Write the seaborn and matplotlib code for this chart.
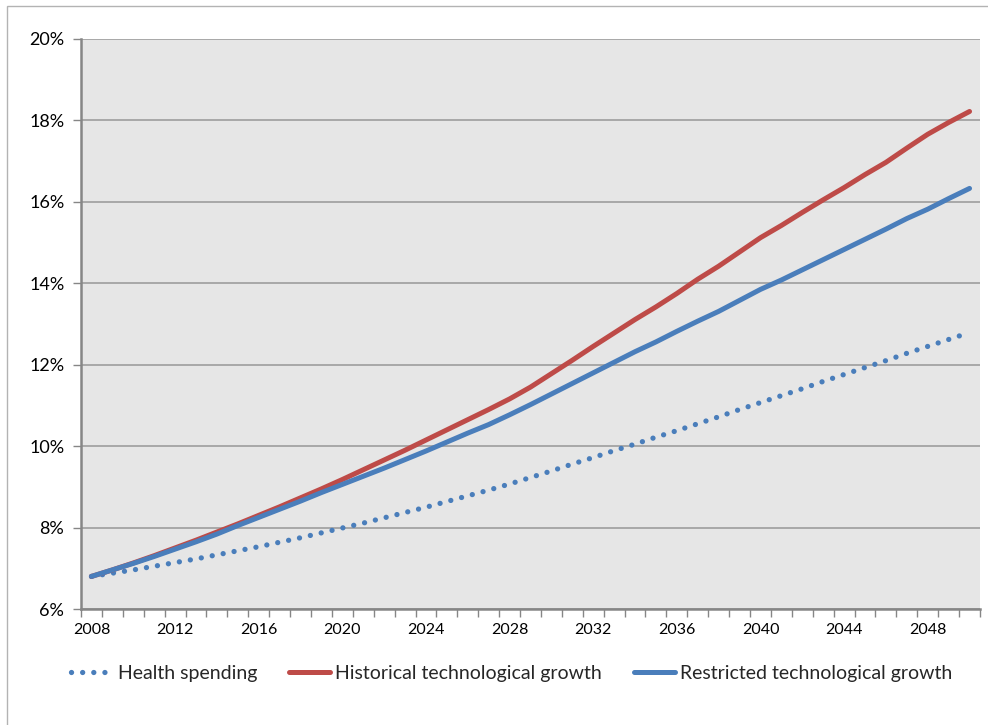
import numpy as np
import pandas as pd
import matplotlib
matplotlib.use("Agg")
import matplotlib.pyplot as plt
import seaborn as sns
from matplotlib.patches import Rectangle
from matplotlib.ticker import FixedLocator, FuncFormatter

years = list(range(2008, 2051))

health_spending = [6.80, 6.88, 6.96, 7.05, 7.14, 7.23, 7.33, 7.43, 7.53, 7.64,
                   7.75, 7.87, 7.99, 8.11, 8.24, 8.37, 8.50, 8.64, 8.78, 8.92,
                   9.07, 9.23, 9.39, 9.56, 9.72, 9.89, 10.05, 10.22, 10.38, 10.55,
                   10.72, 10.90, 11.07, 11.24, 11.41, 11.59, 11.76, 11.93, 12.10, 12.28,
                   12.45, 12.62, 12.79]

historical_growth = [6.80, 6.96, 7.13, 7.31, 7.50, 7.69, 7.89, 8.09, 8.30, 8.51,
                     8.73, 8.95, 9.18, 9.42, 9.66, 9.90, 10.15, 10.40, 10.65, 10.90,
                     11.16, 11.45, 11.78, 12.11, 12.45, 12.78, 13.11, 13.42, 13.75, 14.10,
                     14.42, 14.77, 15.12, 15.42, 15.74, 16.05, 16.35, 16.67, 16.97, 17.32,
                     17.66, 17.95, 18.22]

restricted_growth = [6.80, 6.96, 7.12, 7.29, 7.47, 7.65, 7.84, 8.05, 8.25, 8.45,
                     8.65, 8.86, 9.06, 9.26, 9.46, 9.67, 9.88, 10.10, 10.32, 10.53,
                     10.77, 11.02, 11.28, 11.54, 11.80, 12.06, 12.32, 12.56, 12.82, 13.07,
                     13.31, 13.58, 13.85, 14.08, 14.33, 14.58, 14.83, 15.08, 15.33, 15.59,
                     15.82, 16.08, 16.33]

series_names = ["Health spending", "Historical technological growth",
                "Restricted technological growth"]
x_tick_years = list(range(2008, 2049, 4))
y_ticks = [6, 8, 10, 12, 14, 16, 18, 20]

df = pd.DataFrame({"year": years,
                   series_names[0]: health_spending,
                   series_names[1]: historical_growth,
                   series_names[2]: restricted_growth})

sns.set_theme(style="white")
plt.rcParams['font.family'] = ['Lato', 'DejaVu Sans']

W, H = 988, 725
fig = plt.figure(figsize=(W / 100, H / 100), dpi=100)
ax = fig.add_axes([81 / W, 1 - 609 / H, (980 - 81) / W, (609 - 39) / H])

# figure frame (left and top edges visible)
fig.patches.append(Rectangle((7 / W, -0.1), 1.2, 1 - 6 / H + 0.1,
                             transform=fig.transFigure, fill=False,
                             edgecolor="#b3b3b3", linewidth=1.0, zorder=0))

ax.set_facecolor("#e6e6e6")

blue = "#4a7ebb"
red = "#be4b48"
dot_style = (0, (0.01, 2.1))

sns.lineplot(data=df, x="year", y=series_names[0], ax=ax, color=blue,
             linewidth=3.8, label=series_names[0])
ax.lines[-1].set_linestyle(dot_style)
ax.lines[-1].set_dash_capstyle("round")

sns.lineplot(data=df, x="year", y=series_names[1], ax=ax, color=red,
             linewidth=3.6, label=series_names[1])
ax.lines[-1].set_solid_capstyle("round")

sns.lineplot(data=df, x="year", y=series_names[2], ax=ax, color=blue,
             linewidth=3.6, label=series_names[2])
ax.lines[-1].set_solid_capstyle("round")

ax.set_xlim(2007.5, 2050.5)
ax.set_ylim(6, 20)
ax.set_xlabel("")
ax.set_ylabel("")

ax.set_yticks(y_ticks)
ax.yaxis.set_major_formatter(FuncFormatter(lambda v, p: f"{int(v)}%"))
ax.grid(axis="y", color="#a3a3a3", linewidth=1.3)
ax.set_axisbelow(True)

ax.set_xticks(x_tick_years)
ax.set_xticklabels([str(y) for y in x_tick_years])
ax.xaxis.set_minor_locator(FixedLocator(np.arange(2007.5, 2051, 1.0)))

ax.tick_params(axis="x", which="major", length=0, pad=10, labelsize=11.5,
               labelcolor="#000000")
ax.tick_params(axis="x", which="minor", length=6, width=1, color="#868686",
               direction="out", bottom=True)
ax.tick_params(axis="y", which="major", length=6, width=1, color="#868686",
               direction="out", left=True, pad=6, labelsize=13,
               labelcolor="#000000")

for side in ["top", "right"]:
    ax.spines[side].set_visible(False)
for side in ["left", "bottom"]:
    ax.spines[side].set_color("#868686")
    ax.spines[side].set_linewidth(1.8)

if ax.get_legend():
    ax.get_legend().remove()
handles, labels = ax.get_legend_handles_labels()
leg = fig.legend(handles, labels, loc="center", ncol=3,
                 bbox_to_anchor=(512 / W, 1 - 673 / H), frameon=False,
                 fontsize=14, handlelength=2.1, handletextpad=0.28,
                 columnspacing=1.65)
for h in leg.legend_handles:
    h.set_linewidth(3.6)
leg.legend_handles[0].set_linewidth(3.8)
leg.legend_handles[0].set_linestyle(dot_style)
leg.legend_handles[0].set_dash_capstyle("round")

fig.savefig("out.png", dpi=100)
